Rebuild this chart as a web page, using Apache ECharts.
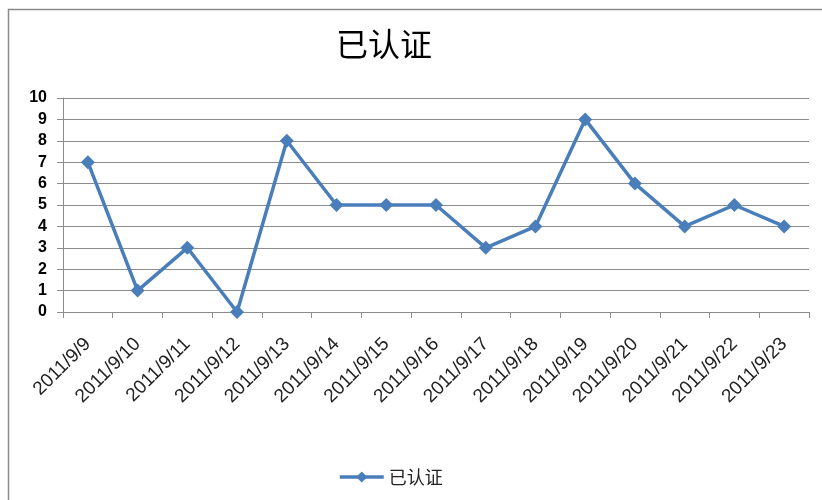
<!DOCTYPE html>
<html>
<head>
<meta charset="utf-8">
<script src="https://cdn.jsdelivr.net/npm/echarts@6/dist/echarts.min.js"></script>
<style>
  html, body { margin: 0; padding: 0; background: #fff; }
  #chart { width: 822px; height: 500px; }
</style>
</head>
<body>
<div id="chart"></div>
<script>
const dates = ['2011/9/9', '2011/9/10', '2011/9/11', '2011/9/12', '2011/9/13', '2011/9/14', '2011/9/15', '2011/9/16',
  '2011/9/17', '2011/9/18', '2011/9/19', '2011/9/20', '2011/9/21', '2011/9/22', '2011/9/23'];
const certified = [7, 1, 3, 0, 8, 5, 5, 5, 3, 4, 9, 6, 4, 5, 4];
const seriesName = '已认证';

const chart = echarts.init(document.getElementById('chart'));
const lineColor = '#4a7ebb';
const gridColor = '#8c8c8c';

const option = {
  animation: false,
  title: {
    text: seriesName,
    left: 331,
    top: 23,
    textStyle: { fontFamily: 'Noto Sans CJK SC', fontSize: 32, fontWeight: 'normal', color: '#000' },
  },
  graphic: [
    { type: 'rect', shape: { x: 8.5, y: 9.5, width: 830, height: 520 }, style: { fill: 'none', stroke: '#8a8a8a', lineWidth: 1.5 } },
  ],
  legend: {
    left: 333,
    top: 463,
    itemWidth: 44,
    itemHeight: 14,
    itemGap: 6,
    lineStyle: { width: 3.5 },
    textStyle: { fontFamily: 'Noto Sans CJK SC', fontSize: 18, color: '#222' },
    data: [seriesName],
  },
  grid: { left: 63, right: 13, top: 98, bottom: 188 },
  xAxis: {
    type: 'category',
    boundaryGap: true,
    data: dates,
    axisLine: { lineStyle: { color: gridColor, width: 1 } },
    axisTick: { show: true, length: 6, lineStyle: { color: gridColor } },
    axisLabel: { rotate: 45, margin: 29, color: '#222', fontFamily: 'Liberation Sans', fontSize: 19 },
  },
  yAxis: {
    type: 'value',
    min: 0,
    max: 10,
    interval: 1,
    axisLine: { show: true, lineStyle: { color: gridColor, width: 1 } },
    axisTick: { show: true, length: 6, lineStyle: { color: gridColor } },
    splitLine: { show: true, lineStyle: { color: gridColor, width: 1 } },
    axisLabel: { margin: 16, color: '#000', fontFamily: 'Liberation Sans', fontSize: 16, fontWeight: 'bold' },
  },
  series: [
    {
      name: seriesName,
      type: 'line',
      data: certified,
      symbol: 'diamond',
      symbolSize: 14,
      showAllSymbol: true,
      lineStyle: { color: lineColor, width: 3.5 },
      itemStyle: { color: lineColor },
    },
  ],
};
chart.setOption(option);
</script>
</body>
</html>
